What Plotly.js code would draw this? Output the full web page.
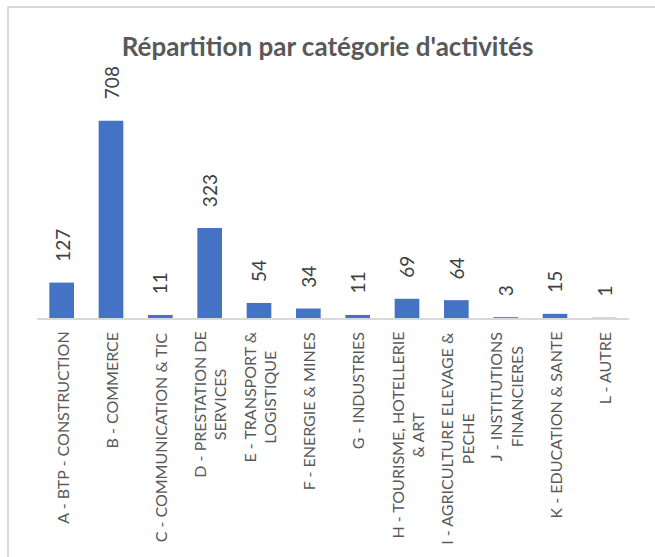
<!DOCTYPE html>
<html>
<head>
<meta charset="utf-8">
<script src="https://cdn.plot.ly/plotly-3.0.1.min.js"></script>
<style>
  html, body { margin: 0; padding: 0; background: #fff; }
  #wrap { position: relative; width: 655px; height: 557px; overflow: hidden; }
  #chart { position: absolute; left: 0; top: 0; width: 655px; height: 557px; }
  #frame { position: absolute; left: 7px; top: 6px; width: 700px; height: 600px;
           border-top: 2px solid #d9d9d9; border-left: 2px solid #d9d9d9; pointer-events: none; }
</style>
</head>
<body>
<div id="wrap">
  <div id="chart"></div>
  <div id="frame"></div>
</div>
<script>
const categories = [
  "A - BTP - CONSTRUCTION",
  "B - COMMERCE",
  "C - COMMUNICATION & TIC",
  "D - PRESTATION DE<br>SERVICES",
  "E - TRANSPORT &<br>LOGISTIQUE",
  "F - ENERGIE & MINES",
  "G - INDUSTRIES",
  "H - TOURISME, HOTELLERIE<br>& ART",
  "I - AGRICULTURE ELEVAGE &<br>PECHE",
  "J - INSTITUTIONS<br>FINANCIERES",
  "K - EDUCATION & SANTE",
  "L - AUTRE"
];
const counts = [127, 708, 11, 323, 54, 34, 11, 69, 64, 3, 15, 1];
const chartTitle = "Répartition par catégorie d'activités";

const font = "Lato, 'Open Sans', sans-serif";

const trace = {
  type: "bar",
  x: categories,
  y: counts,
  marker: { color: "#4472C4" },
  cliponaxis: false,
  hoverinfo: "none"
};

const valueLabels = categories.map((c, i) => ({
  x: c,
  y: counts[i],
  xref: "x",
  yref: "y",
  text: String(counts[i]),
  textangle: -90,
  showarrow: false,
  xanchor: "center",
  yanchor: "bottom",
  yshift: 19,
  font: { family: font, size: 19, color: "#404040" }
}));

const categoryLabels = categories.map((c) => ({
  x: c,
  y: 0,
  xref: "x",
  yref: "y",
  text: c,
  textangle: -90,
  showarrow: false,
  align: "center",
  xanchor: "center",
  yanchor: "top",
  yshift: -12,
  font: { family: font, size: 16, color: "#595959" }
}));

const layout = {
  width: 655,
  height: 557,
  margin: { l: 37, r: 26, t: 95, b: 239 },
  paper_bgcolor: "rgba(0,0,0,0)",
  plot_bgcolor: "rgba(0,0,0,0)",
  bargap: 0.5,
  showlegend: false,
  title: {
    text: "<b>" + chartTitle + "</b>",
    font: { family: font, size: 26, color: "#595959" },
    x: 0.5, xanchor: "center",
    y: 1 - 47 / 557, yanchor: "middle", yref: "container"
  },
  xaxis: {
    type: "category",
    showticklabels: false,
    showline: true,
    linecolor: "#d9d9d9",
    linewidth: 2,
    ticks: "",
    showgrid: false,
    zeroline: false,
    automargin: false
  },
  yaxis: {
    range: [0, 800],
    visible: false,
    showgrid: false,
    zeroline: false,
    fixedrange: true
  },
  annotations: valueLabels.concat(categoryLabels)
};

Plotly.newPlot("chart", [trace], layout, { displayModeBar: false, staticPlot: true });
</script>
</body>
</html>
